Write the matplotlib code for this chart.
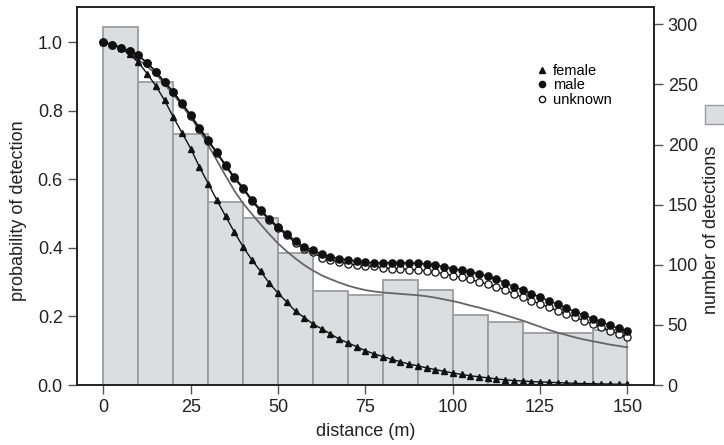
import matplotlib
matplotlib.use("Agg")
import matplotlib.pyplot as plt
from matplotlib.lines import Line2D
from matplotlib.patches import Rectangle
import numpy as np

plt.rcParams["font.family"] = ["Liberation Sans", "DejaVu Sans"]

# ---- data ----
bin_left = [0, 10, 20, 30, 40, 50, 60, 70, 80, 90, 100, 110, 120, 130, 140]
counts = [298, 252, 209, 152, 139, 110, 78, 75, 87, 79, 58, 52, 43, 43, 46]

distance = np.arange(0, 150.1, 2.5)

female = [1.000, 0.995, 0.983, 0.965, 0.942, 0.909, 0.873, 0.831, 0.782, 0.736,
          0.690, 0.636, 0.588, 0.539, 0.492, 0.446, 0.403, 0.365, 0.332, 0.297,
          0.268, 0.242, 0.215, 0.197, 0.178, 0.164, 0.149, 0.134, 0.123, 0.112,
          0.100, 0.091, 0.083, 0.075, 0.068, 0.061, 0.056, 0.050, 0.045, 0.040,
          0.035, 0.031, 0.027, 0.024, 0.021, 0.018, 0.015, 0.013, 0.012, 0.010,
          0.009, 0.008, 0.007, 0.006, 0.005, 0.004, 0.004, 0.003, 0.003, 0.002,
          0.002]

male = [1.000, 0.993, 0.985, 0.975, 0.962, 0.940, 0.915, 0.884, 0.855, 0.822,
        0.788, 0.751, 0.714, 0.679, 0.642, 0.607, 0.576, 0.541, 0.512, 0.485,
        0.461, 0.442, 0.420, 0.403, 0.395, 0.381, 0.375, 0.369, 0.365, 0.361,
        0.358, 0.357, 0.357, 0.357, 0.357, 0.356, 0.355, 0.353, 0.350, 0.345,
        0.340, 0.335, 0.330, 0.325, 0.317, 0.309, 0.299, 0.287, 0.278, 0.267,
        0.256, 0.246, 0.236, 0.225, 0.214, 0.204, 0.194, 0.184, 0.174, 0.165,
        0.157]

unknown = [1.000, 0.993, 0.985, 0.975, 0.962, 0.940, 0.915, 0.884, 0.855, 0.821,
           0.786, 0.748, 0.711, 0.676, 0.638, 0.603, 0.572, 0.537, 0.507, 0.482,
           0.457, 0.437, 0.414, 0.396, 0.387, 0.372, 0.365, 0.359, 0.354, 0.350,
           0.347, 0.346, 0.342, 0.340, 0.339, 0.337, 0.336, 0.333, 0.329, 0.325,
           0.319, 0.314, 0.308, 0.301, 0.294, 0.287, 0.278, 0.266, 0.256, 0.246,
           0.237, 0.227, 0.217, 0.208, 0.198, 0.188, 0.178, 0.168, 0.159, 0.149,
           0.139]

overall = [1.000, 0.994, 0.984, 0.969, 0.950, 0.930, 0.908, 0.878, 0.848, 0.816,
           0.781, 0.743, 0.700, 0.655, 0.610, 0.567, 0.530, 0.499, 0.469, 0.440,
           0.413, 0.390, 0.369, 0.350, 0.334, 0.320, 0.309, 0.299, 0.290, 0.283,
           0.277, 0.273, 0.270, 0.268, 0.266, 0.264, 0.262, 0.259, 0.255, 0.250,
           0.245, 0.239, 0.232, 0.226, 0.219, 0.212, 0.204, 0.196, 0.188, 0.179,
           0.170, 0.161, 0.153, 0.146, 0.139, 0.133, 0.128, 0.123, 0.118, 0.114,
           0.110]

x_ticks = [0, 25, 50, 75, 100, 125, 150]
left_ticks = [0.0, 0.2, 0.4, 0.6, 0.8, 1.0]
right_ticks = [0, 50, 100, 150, 200, 250, 300]

# ---- figure ----
fig = plt.figure(figsize=(7.24, 4.45), dpi=100)
ax = fig.add_axes([0.1057, 0.1348, 0.7976, 0.850])
ax2 = ax.twinx()

ax2.bar(bin_left, counts, width=10, align="edge", color="#dcdde0",
        edgecolor="#9c9c9c", linewidth=1.3)
ax2.set_ylim(0, 314.6)
ax2.set_yticks(right_ticks)

ax.set_zorder(ax2.get_zorder() + 1)
ax.patch.set_visible(False)

ax.plot(distance, overall, color="#666666", lw=1.3)
ax.plot(distance, female, color="#111111", lw=1.0, marker="^", ms=5.0,
        mfc="#111111", mec="#111111")
ax.plot(distance, unknown, color="#111111", lw=1.0, marker="o", ms=5.2,
        mfc="white", mec="#111111", mew=0.9)
ax.plot(distance, male, color="#111111", lw=1.0, marker="o", ms=5.2,
        mfc="#111111", mec="#111111")

ax.set_xlim(-7.7, 157.6)
ax.set_ylim(0, 1.104)
ax.set_xticks(x_ticks)
ax.set_yticks(left_ticks)
ax.set_yticklabels([f"{v:.1f}" for v in left_ticks])

for a in (ax, ax2):
    a.tick_params(direction="out", length=6.5, width=1.0, color="#555555",
                  labelsize=13, labelcolor="#222222", pad=3.4)
    for s in a.spines.values():
        s.set_linewidth(1.2)
        s.set_color("#222222")

handles = [
    Line2D([], [], ls="none", marker="^", ms=4.5, mfc="#111111", mec="#111111"),
    Line2D([], [], ls="none", marker="o", ms=4.5, mfc="#111111", mec="#111111"),
    Line2D([], [], ls="none", marker="o", ms=4.5, mfc="white", mec="#111111"),
]
ax.legend(handles, ["female", "male", "unknown"], loc="upper left",
          bbox_to_anchor=(0.785, 0.865), frameon=False, fontsize=10.5,
          handlelength=0.8, handletextpad=0.4, labelspacing=0.05,
          borderaxespad=0)

fig.text(19 / 724, 1 - 211 / 445, "probability of detection", rotation=90,
         ha="center", va="center", fontsize=13, color="#222222")
fig.text(366 / 724, 1 - 432 / 445, "distance (m)", ha="center", va="center",
         fontsize=13, color="#222222")
fig.text(711 / 724, 1 - 230 / 445, "number of detections", rotation=90,
         ha="center", va="center", fontsize=13, color="#222222")
fig.patches.append(Rectangle((705 / 724, 1 - 124 / 445), 21 / 724, 19 / 445,
                             transform=fig.transFigure, facecolor="#dcdde0",
                             edgecolor="#9c9c9c", linewidth=1.0))

fig.savefig("out.png", dpi=100)
